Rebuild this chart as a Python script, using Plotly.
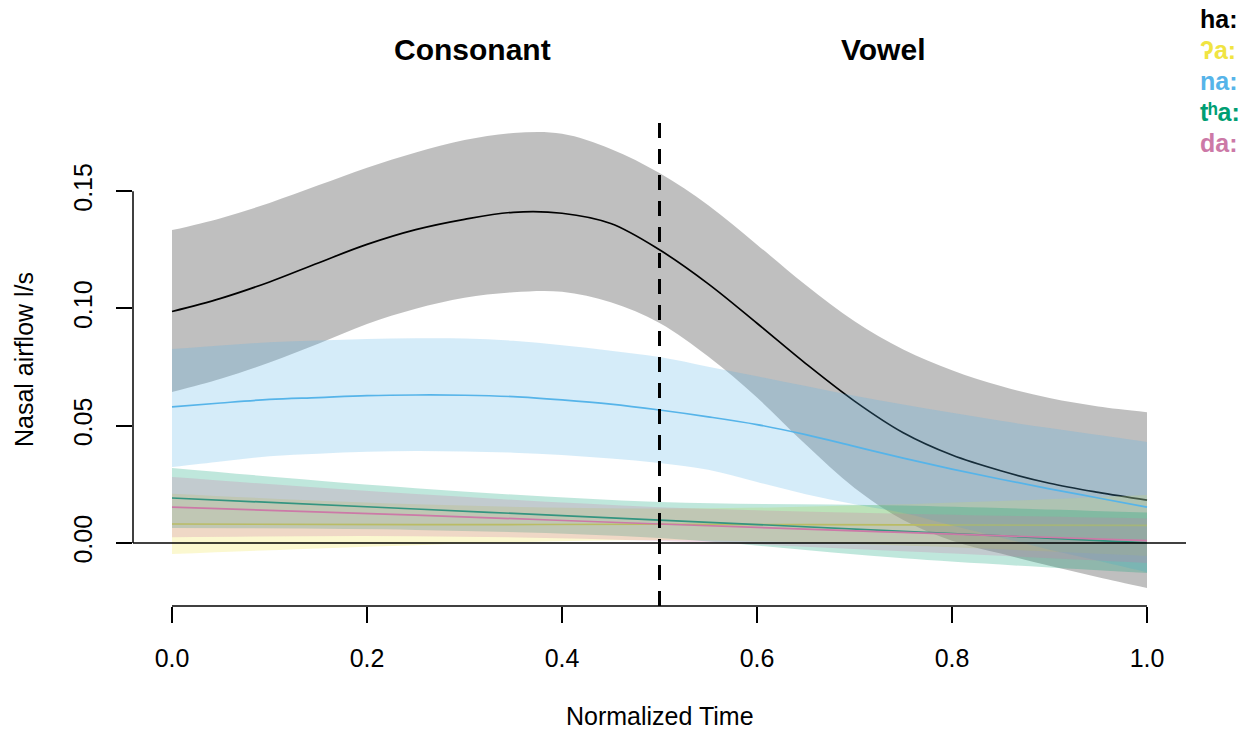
import plotly.graph_objects as go

# Normalized time grids
t_fine = [0.00, 0.05, 0.10, 0.15, 0.20, 0.25, 0.30, 0.35, 0.40, 0.45, 0.50,
          0.55, 0.60, 0.65, 0.70, 0.75, 0.80, 0.85, 0.90, 0.95, 1.00]
t_coarse = [0.00, 0.25, 0.50, 0.75, 1.00]

# ha: (fitted mean and confidence band, l/s)
ha_fit = [0.0987, 0.1043, 0.1113, 0.1194, 0.1273, 0.1336, 0.1380, 0.1410, 0.1406, 0.1362, 0.1250,
          0.1105, 0.0937, 0.0765, 0.0605, 0.0470, 0.0375, 0.0308, 0.0255, 0.0216, 0.0183]
ha_upper = [0.1334, 0.1385, 0.1450, 0.1525, 0.1600, 0.1665, 0.1718, 0.1748, 0.1745, 0.1680, 0.1577,
            0.1440, 0.1272, 0.1100, 0.0945, 0.0825, 0.0737, 0.0669, 0.0618, 0.0582, 0.0558]
ha_lower = [0.0644, 0.0700, 0.0770, 0.0850, 0.0934, 0.0999, 0.1046, 0.1069, 0.1071, 0.1026, 0.0938,
            0.0795, 0.0620, 0.0420, 0.0235, 0.0098, 0.0010, -0.0045, -0.0097, -0.0146, -0.0192]

# na:
na_fit = [0.0580, 0.0597, 0.0612, 0.0620, 0.0628, 0.0631, 0.0630, 0.0624, 0.0610, 0.0592, 0.0567,
          0.0538, 0.0505, 0.0462, 0.0412, 0.0362, 0.0315, 0.0272, 0.0231, 0.0192, 0.0153]
na_upper = [0.0827, 0.0842, 0.0856, 0.0863, 0.0870, 0.0873, 0.0872, 0.0862, 0.0843, 0.0820, 0.0793,
            0.0752, 0.0711, 0.0669, 0.0628, 0.0591, 0.0555, 0.0521, 0.0490, 0.0460, 0.0431]
na_lower = [0.0324, 0.0348, 0.0370, 0.0381, 0.0389, 0.0392, 0.0390, 0.0385, 0.0375, 0.0360, 0.0341,
            0.0312, 0.0260, 0.0208, 0.0165, 0.0128, 0.0075, 0.0024, -0.0029, -0.0076, -0.0125]

# ʔa:
ga_fit = [0.0081, 0.0078, 0.0080, 0.0077, 0.0075]
ga_upper = [0.0210, 0.0165, 0.0147, 0.0165, 0.0205]
ga_lower = [-0.0047, -0.0009, 0.0013, -0.0011, -0.0055]

# tʰa:
tha_fit = [0.0192, 0.0145, 0.0098, 0.0050, 0.0001]
tha_upper = [0.0320, 0.0234, 0.0175, 0.0160, 0.0130]
tha_lower = [0.0064, 0.0056, 0.0021, -0.0065, -0.0128]

# da:
da_fit = [0.0153, 0.0119, 0.0081, 0.0045, 0.0010]
da_upper = [0.0281, 0.0209, 0.0153, 0.0125, 0.0105]
da_lower = [0.0025, 0.0029, 0.0009, -0.0035, -0.0085]

labels = ["ha:", "ʔa:", "na:", "tʰa:", "da:"]
line_colors = ["#000000", "#F0E442", "#56B4E9", "#009E73", "#CC79A7"]
band_colors = ["rgba(0,0,0,0.25)", "rgba(240,228,66,0.25)", "rgba(86,180,233,0.25)",
               "rgba(0,158,115,0.25)", "rgba(204,121,167,0.25)"]

series = [
    (t_fine, ha_fit, ha_upper, ha_lower),
    (t_coarse, ga_fit, ga_upper, ga_lower),
    (t_fine, na_fit, na_upper, na_lower),
    (t_coarse, tha_fit, tha_upper, tha_lower),
    (t_coarse, da_fit, da_upper, da_lower),
]

section_titles = ["Consonant", "Vowel"]
section_x = [0.3077, 0.729]
boundary = 0.5

x_ticks = [0.0, 0.2, 0.4, 0.6, 0.8, 1.0]
x_ticktext = ["0.0", "0.2", "0.4", "0.6", "0.8", "1.0"]
y_ticks = [0.00, 0.05, 0.10, 0.15]
y_ticktext = ["0.00", "0.05", "0.10", "0.15"]

x_range = [-0.04, 1.04]
y_range = [-0.02685, 0.1829]

FONT = "Arial, Liberation Sans, Helvetica, sans-serif"
SMOOTH = 1.0

fig = go.Figure()

# each word: confidence band first, then its fitted curve on top
for (t, fit, up, lo), bc, lc, name in zip(series, band_colors, line_colors, labels):
    fig.add_trace(go.Scatter(x=t, y=lo, mode="lines",
                             line=dict(width=0, shape="spline", smoothing=SMOOTH),
                             showlegend=False, hoverinfo="skip"))
    fig.add_trace(go.Scatter(x=t, y=up, mode="lines",
                             line=dict(width=0, shape="spline", smoothing=SMOOTH),
                             fill="tonexty", fillcolor=bc, showlegend=False, hoverinfo="skip"))
    fig.add_trace(go.Scatter(x=t, y=fit, mode="lines", name=name,
                             line=dict(color=lc, width=1.7, shape="spline", smoothing=SMOOTH),
                             showlegend=False))

shapes = [
    # zero reference line across the plotting region
    dict(type="line", xref="paper", x0=0, x1=1, yref="y", y0=0, y1=0,
         line=dict(color="black", width=1.5)),
    # consonant / vowel boundary
    dict(type="line", xref="x", x0=boundary, x1=boundary, yref="paper", y0=0, y1=1,
         line=dict(color="black", width=3, dash="15px,11px")),
    # axis lines spanning only the tick range
    dict(type="line", xref="x", x0=x_ticks[0], x1=x_ticks[-1], yref="paper", y0=0, y1=0,
         line=dict(color="black", width=1.5)),
    dict(type="line", xref="paper", x0=0, x1=0, yref="y", y0=y_ticks[0], y1=y_ticks[-1],
         line=dict(color="black", width=1.5)),
]

annotations = []
for txt, xs in zip(section_titles, section_x):
    annotations.append(dict(text=f"<b>{txt}</b>", x=xs, xref="x", y=(606 - 50) / 492, yref="paper",
                            showarrow=False, xanchor="center", yanchor="middle",
                            font=dict(family=FONT, size=30, color="black")))
annotations.append(dict(text="Normalized Time", x=0.5, xref="x", y=(606 - 716) / 492, yref="paper",
                        showarrow=False, xanchor="center", yanchor="middle",
                        font=dict(family=FONT, size=25, color="black")))
annotations.append(dict(text="Nasal airflow l/s", x=(24 - 133) / 1053, xref="paper", y=0.5, yref="paper",
                        showarrow=False, xanchor="center", yanchor="middle", textangle=-90,
                        font=dict(family=FONT, size=25, color="black")))
legend_y = [19, 50, 81, 112, 143]
for name, col, py in zip(labels, line_colors, legend_y):
    annotations.append(dict(text=f"<b>{name}</b>", x=(1198 - 133) / 1053, xref="paper",
                            y=(606 - py) / 492, yref="paper", showarrow=False,
                            xanchor="left", yanchor="middle",
                            font=dict(family=FONT, size=25, color=col)))

fig.update_layout(
    width=1247, height=730,
    margin=dict(l=133, r=61, t=114, b=124),
    paper_bgcolor="white", plot_bgcolor="white",
    font=dict(family=FONT, size=25, color="black"),
    shapes=shapes, annotations=annotations,
    showlegend=False,
)
fig.update_xaxes(range=x_range, tickvals=x_ticks, ticktext=x_ticktext,
                 ticks="outside", ticklen=16, tickwidth=1.5, tickcolor="black",
                 showline=False, showgrid=False, zeroline=False,
                 tickfont=dict(family=FONT, size=25, color="black"), ticklabelstandoff=14)
fig.update_yaxes(range=y_range, tickvals=y_ticks, ticktext=y_ticktext, tickangle=-90,
                 ticks="outside", ticklen=16, tickwidth=1.5, tickcolor="black",
                 showline=False, showgrid=False, zeroline=False,
                 tickfont=dict(family=FONT, size=25, color="black"), ticklabelstandoff=14)

fig.write_html("out.html")
